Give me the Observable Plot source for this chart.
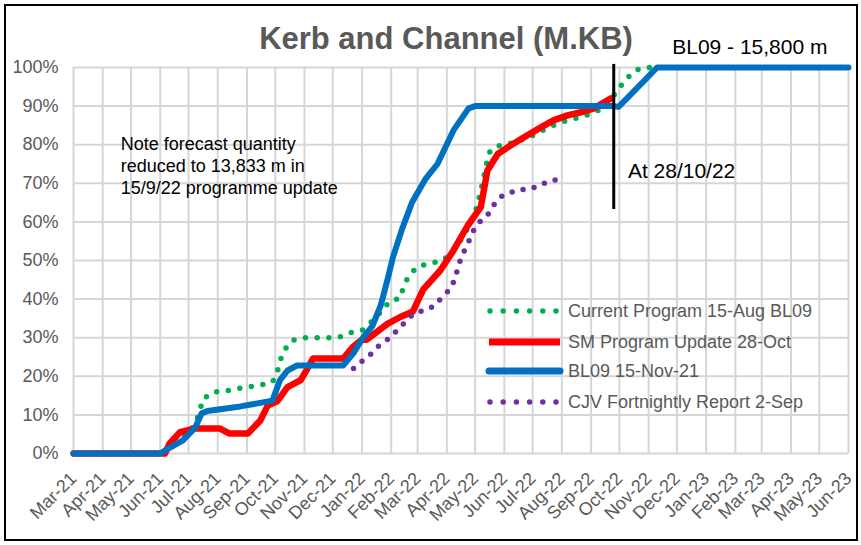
<!DOCTYPE html>
<html>
<head>
<meta charset="utf-8">
<script src="https://cdn.jsdelivr.net/npm/d3@7"></script>
<script src="https://cdn.jsdelivr.net/npm/@observablehq/plot@0.6"></script>
<style>
  body { margin: 0; background: #fff; font-family: "Liberation Sans", Arial, sans-serif; }
  #wrap { position: relative; width: 861px; height: 545px; overflow: hidden; }
  #frame { position: absolute; left: 4px; top: 4px; width: 850px; height: 533px; border: 2.5px solid #000; box-sizing: content-box; }
  #title { position: absolute; left: 0; width: 892px; top: 21px; text-align: center; font-weight: bold; font-size: 31px; color: #595959; white-space: nowrap; }
  #chart svg, #legend { position: absolute; left: 0; top: 0; }
</style>
</head>
<body>
<div id="wrap">
  <div id="chart"></div>
  <svg id="legend" width="861" height="545"></svg>
  <div id="title">Kerb and Channel (M.KB)</div>
  <div id="frame"></div>
</div>
<script>
// ---- Data ----
const greenDates = ["2021-03-01","2021-06-04","2021-06-25","2021-07-08","2021-07-13","2021-07-16","2021-07-27","2021-08-09","2021-08-22","2021-09-02","2021-09-15","2021-09-28","2021-10-03","2021-10-06","2021-10-11","2021-10-19","2021-10-30","2021-12-07","2021-12-18","2022-01-01","2022-01-15","2022-01-31","2022-02-10","2022-02-14","2022-02-19","2022-02-28","2022-03-12","2022-03-25","2022-04-02","2022-04-15","2022-04-26","2022-05-03","2022-05-07","2022-05-13","2022-05-17","2022-05-25","2022-05-31","2022-06-12","2022-06-28","2022-07-14","2022-07-27","2022-08-10","2022-08-23","2022-09-04","2022-09-17","2022-09-30","2022-10-07","2022-10-16","2022-10-26","2022-11-10"];
const greenPct = [0,0,4,7.5,11,14,15.9,16.2,16.8,17.2,17.7,18.5,21,24,26.9,29.3,30,30,31.2,31.9,35,39.6,40.1,43,45.8,48.2,49.2,49.8,51,55,59.5,64,68,75,78.5,79.6,80,80.6,82,84,85.5,86.5,87.3,88.3,90,94.5,96.6,99,100,100];

const redDates = ["2021-03-01","2021-06-06","2021-06-11","2021-06-22","2021-07-08","2021-08-03","2021-08-13","2021-09-02","2021-09-15","2021-09-23","2021-10-03","2021-10-14","2021-10-28","2021-11-05","2021-11-10","2021-12-12","2021-12-22","2022-01-01","2022-01-06","2022-01-28","2022-02-10","2022-02-24","2022-03-07","2022-03-25","2022-04-08","2022-04-23","2022-05-07","2022-05-14","2022-05-25","2022-06-10","2022-06-25","2022-07-12","2022-07-23","2022-08-07","2022-08-21","2022-09-04","2022-09-22"];
const redPct = [0,0,2.6,5.5,6.5,6.5,5.2,5.2,8.5,12.4,13.5,17.2,19,22.4,24.6,24.6,27.5,29.5,29.5,33.6,35.3,36.8,42.5,47.4,52.6,59,63.8,73.3,77.6,80.2,82.4,84.8,86.3,87.6,88.4,89.4,92];

const blueDates = ["2021-03-01","2021-06-01","2021-06-09","2021-06-25","2021-07-08","2021-07-15","2021-07-21","2021-08-25","2021-09-28","2021-10-06","2021-10-14","2021-10-24","2021-12-12","2021-12-23","2022-01-02","2022-01-12","2022-01-21","2022-01-28","2022-02-03","2022-02-13","2022-02-23","2022-03-09","2022-03-22","2022-04-08","2022-04-24","2022-05-01","2022-09-23","2022-09-30","2022-10-09","2022-11-10","2023-06-01"];
const bluePct = [0,0,1.2,3.4,6.7,10.4,11,12.2,13.7,19,21.5,22.8,22.8,26,30,33,38.5,45,51,58.5,65,71,75,83.7,89.4,90,90,89.8,92,100,100];

const purpleDates = ["2021-12-23","2022-01-02","2022-01-12","2022-01-21","2022-01-30","2022-02-08","2022-02-17","2022-02-25","2022-03-07","2022-03-18","2022-03-27","2022-04-05","2022-04-10","2022-04-13","2022-04-17","2022-04-23","2022-04-28","2022-05-04","2022-05-14","2022-05-20","2022-05-29","2022-06-09","2022-06-21","2022-07-04","2022-07-16","2022-07-27"];
const purplePct = [22,24.1,26.1,28.5,29.8,32.1,34.4,36.3,37,38.1,40.5,42.7,45.5,48.5,51.3,54.2,57.2,59.6,61.7,64.2,66.6,67.7,68.4,69,70.3,71];

const seriesNames = ["Current Program 15-Aug BL09","SM Program Update 28-Oct","BL09 15-Nov-21","CJV Fortnightly Report 2-Sep"];
const seriesColors = ["#00b050","#ff0000","#0070c0","#7030a0"];
const yTicks = [0,10,20,30,40,50,60,70,80,90,100];
const xStart = "2021-03-01", xEnd = "2023-06-01";

const noteText = ["Note forecast quantity\nreduced to 13,833 m in\n15/9/22 programme update"];
const noteAt = {date: "2021-04-20", pct: 82.6};
const markerDate = "2022-09-25";
const markerRange = [63.2, 100.8];
const markerText = "At 28/10/22";
const markerTextAt = {date: "2022-10-10", pct: 73};
const totalText = "BL09 - 15,800 m";
const totalTextAt = {date: "2022-11-26", pct: 105.2};

// ---- Build tables ----
const P = d3.utcParse("%Y-%m-%d");
const mk = (dates, vals) => dates.map((d, i) => ({date: P(d), pct: vals[i]}));
const green = mk(greenDates, greenPct);
const red = mk(redDates, redPct);
const blue = mk(blueDates, bluePct);
const purple = mk(purpleDates, purplePct);
const months = d3.utcMonth.range(P(xStart), d3.utcDay.offset(P(xEnd), 1));
const fmt = d3.utcFormat("%b-%y");

const grid = "#d6d6d6";
const chart = Plot.plot({
  width: 861,
  height: 545,
  marginLeft: 73,
  marginRight: 13,
  marginTop: 67,
  marginBottom: 92,
  style: {fontFamily: "'Liberation Sans', Arial, sans-serif", fontSize: "18px", color: "#595959", background: "transparent", overflow: "visible"},
  x: {type: "utc", domain: [P(xStart), P(xEnd)]},
  y: {domain: [0, 100]},
  marks: [
    Plot.ruleX(months, {stroke: grid, strokeWidth: 2}),
    Plot.ruleY(yTicks, {stroke: grid, strokeWidth: 2}),
    Plot.axisY({ticks: yTicks, tickFormat: d => d + "%", tickSize: 0, tickPadding: 15, label: null, fontSize: 18}),
    Plot.axisX({ticks: months, tickFormat: fmt, tickRotate: -45, tickSize: 0, tickPadding: 12, dy: 10, label: null, fontSize: 18}),
    Plot.line(green, {x: "date", y: "pct", stroke: seriesColors[0], strokeWidth: 5.5, strokeDasharray: "0 11.7", strokeLinecap: "round"}),
    Plot.line(red, {x: "date", y: "pct", stroke: seriesColors[1], strokeWidth: 6.5, strokeLinejoin: "round"}),
    Plot.line(blue, {x: "date", y: "pct", stroke: seriesColors[2], strokeWidth: 6, strokeLinejoin: "round", strokeLinecap: "round"}),
    Plot.line(purple, {x: "date", y: "pct", stroke: seriesColors[3], strokeWidth: 5.5, strokeDasharray: "0 11.2", strokeLinecap: "round"}),
    Plot.ruleX([P(markerDate)], {y1: markerRange[0], y2: markerRange[1], stroke: "#000", strokeWidth: 3}),
    Plot.text(noteText, {x: () => P(noteAt.date), y: () => noteAt.pct, text: d => d, textAnchor: "start", lineAnchor: "top", lineHeight: 1.22, fontSize: 18, fill: "#000"}),
    Plot.text([markerText], {x: () => P(markerTextAt.date), y: () => markerTextAt.pct, text: d => d, textAnchor: "start", lineAnchor: "middle", fontSize: 21, fill: "#000"}),
    Plot.text([totalText], {x: () => P(totalTextAt.date), y: () => totalTextAt.pct, text: d => d, textAnchor: "start", lineAnchor: "middle", fontSize: 21, fill: "#000"})
  ]
});
document.getElementById("chart").appendChild(chart);

// ---- Legend ----
const legendRows = [311, 342, 371, 402];
const leg = d3.select("#legend");
seriesNames.forEach((name, i) => {
  const y = legendRows[i];
  const dotted = (i === 0 || i === 3);
  leg.append("line")
    .attr("x1", dotted ? 490 : 489).attr("x2", dotted ? 556 : 560)
    .attr("y1", y).attr("y2", y)
    .attr("stroke", seriesColors[i])
    .attr("stroke-width", dotted ? 5.5 : 7)
    .attr("stroke-linecap", dotted ? "round" : (i === 2 ? "round" : "butt"))
    .attr("stroke-dasharray", dotted ? "0 13.2" : null);
  leg.append("text")
    .attr("x", 568).attr("y", y).attr("dy", "0.35em")
    .attr("fill", "#595959")
    .attr("font-family", "'Liberation Sans', Arial, sans-serif")
    .attr("font-size", 18)
    .text(name);
});
</script>
</body>
</html>
